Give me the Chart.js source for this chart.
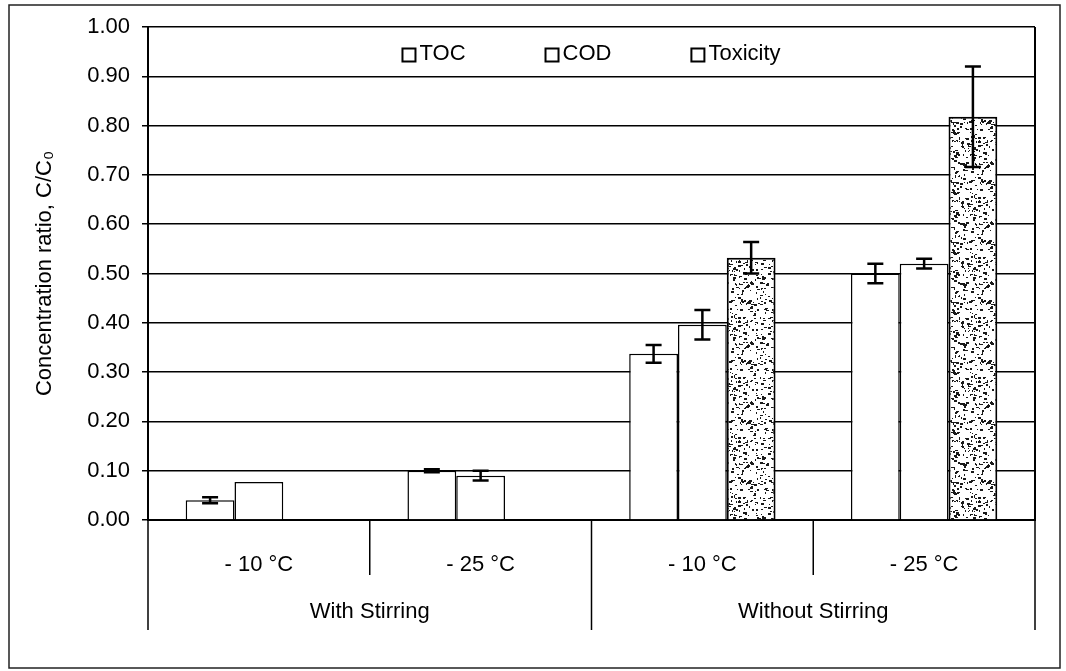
<!DOCTYPE html>
<html>
<head>
<meta charset="utf-8">
<script src="https://cdn.jsdelivr.net/npm/chart.js"></script>
<style>
  html, body { margin: 0; padding: 0; background: #fff; }
</style>
</head>
<body>
<canvas id="myratiochart" width="1066" height="671"></canvas>
<script>
// categories and series
const categories = ['- 10 °C', '- 25 °C', '- 10 °C', '- 25 °C']
const groupNames = ['With Stirring', 'Without Stirring']
const categoryGroup = [0, 0, 1, 1]
const seriesNames = ['TOC', 'COD', 'Toxicity']
const tocValues = [0.04, 0.10, 0.337, 0.50]
const tocErrors = [0.006, 0.003, 0.018, 0.02]
const codValues = [0.077, 0.09, 0.396, 0.52]
const codErrors = [0, 0.01, 0.03, 0.01]
const toxValues = [null, null, 0.532, 0.818]
const toxErrors = [null, null, 0.032, 0.102]
const yMin = 0
const yMax = 1
const yStep = 0.1

const fontFamily = '"Liberation Sans", Arial, sans-serif'
const fontSize = 22

const canvasforratio = document.getElementById('myratiochart')
const ctx = canvasforratio.getContext('2d')

// speckled fill for the toxicity bars (fixed texture, not data)
function speckle(){
    const c = document.createElement('canvas')
    c.width = 60
    c.height = 60
    const g = c.getContext('2d')
    g.fillStyle = '#fff'
    g.fillRect(0, 0, 60, 60)
    g.fillStyle = '#1a1a1a'
    let seed = 12345
    function next(){
        seed = (seed * 16807) % 2147483647
        return seed / 2147483647
    }
    for(let i = 0; i < 260; i++){
        let x = Math.floor(next() * 60)
        let y = Math.floor(next() * 60)
        let w = 1 + Math.floor(next() * 3)
        let h = 1 + Math.floor(next() * 2)
        g.fillRect(x, y, w, h)
    }
    return ctx.createPattern(c, 'repeat')
}

const errorLists = [tocErrors, codErrors, toxErrors]

const extrasPlugin = {
    id: 'extras',
    afterDatasetsDraw(chart){
        const c = chart.ctx
        const y = chart.scales.y
        // error bars
        c.save()
        c.strokeStyle = '#000'
        c.lineWidth = 2.5
        chart.data.datasets.forEach(function(ds, di){
            const meta = chart.getDatasetMeta(di)
            meta.data.forEach(function(bar, i){
                const v = ds.data[i]
                const e = errorLists[di][i]
                if(v === null || e === null || !e) return
                const x = bar.x
                const top = y.getPixelForValue(v + e)
                const bot = y.getPixelForValue(v - e)
                c.beginPath()
                c.moveTo(x, top); c.lineTo(x, bot)
                c.moveTo(x - 8, top); c.lineTo(x + 8, top)
                c.moveTo(x - 8, bot); c.lineTo(x + 8, bot)
                c.stroke()
            })
        })
        c.restore()
    },
    afterDraw(chart){
        const c = chart.ctx
        const area = chart.chartArea
        const x = chart.scales.x
        const catW = x.width / categories.length
        c.save()
        c.strokeStyle = '#000'
        c.fillStyle = '#000'

        // right edge of the plot
        c.lineWidth = 2
        c.beginPath()
        c.moveTo(area.right, area.top); c.lineTo(area.right, area.bottom)
        c.stroke()

        // category separators below the axis
        c.lineWidth = 1.5
        for(let i = 0; i <= categories.length; i++){
            const bx = x.getPixelForValue(0) - catW / 2 + i * catW
            const isGroupEdge = i === 0 || i === categories.length || categoryGroup[i] !== categoryGroup[i - 1]
            c.beginPath()
            c.moveTo(bx, area.bottom)
            c.lineTo(bx, area.bottom + (isGroupEdge ? 110 : 55))
            c.stroke()
        }

        // group labels
        c.font = fontSize + 'px ' + fontFamily
        c.textAlign = 'center'
        c.textBaseline = 'middle'
        groupNames.forEach(function(name, gi){
            let idx = []
            categoryGroup.forEach(function(g, i){ if(g === gi) idx.push(i) })
            const cx = (x.getPixelForValue(idx[0]) + x.getPixelForValue(idx[idx.length - 1])) / 2
            c.fillText(name, cx, area.bottom + 92)
        })

        // legend inside the plot
        const gap = 80
        const box = 13
        c.textAlign = 'left'
        let widths = chart.data.datasets.map(function(ds){ return box + 4 + c.measureText(ds.label).width })
        let total = widths.reduce(function(a, b){ return a + b }, 0) + gap * (widths.length - 1)
        let lx = (area.left + area.right) / 2 - total / 2
        const ly = area.top + 26
        chart.data.datasets.forEach(function(ds, di){
            c.fillStyle = '#fff'
            c.fillRect(lx, ly - box / 2 + 2, box, box)
            c.lineWidth = 2
            c.strokeRect(lx, ly - box / 2 + 2, box, box)
            c.fillStyle = '#000'
            c.fillText(ds.label, lx + box + 4, ly + 1)
            lx += widths[di] + gap
        })

        // outer frame
        c.lineWidth = 1.5
        c.strokeStyle = '#222'
        c.strokeRect(9, 5, 1051, 663)
        c.restore()
    }
}

new Chart(canvasforratio, {
    type: 'bar',
    data: {
        labels: categories,
        datasets: [
            { label: seriesNames[0], data: tocValues, backgroundColor: '#fff', borderColor: '#000', borderWidth: 1.5 },
            { label: seriesNames[1], data: codValues, backgroundColor: '#fff', borderColor: '#000', borderWidth: 1.5 },
            { label: seriesNames[2], data: toxValues, backgroundColor: speckle(), borderColor: '#000', borderWidth: 2 }
        ]
    },
    options: {
        responsive: false,
        animation: false,
        layout: { padding: { top: 27, right: 31, bottom: 0, left: 0 } },
        datasets: { bar: { categoryPercentage: 0.66, barPercentage: 1.0 } },
        plugins: {
            legend: { display: false },
            tooltip: { enabled: false }
        },
        scales: {
            x: {
                grid: { display: false, drawTicks: false },
                border: { display: true, color: '#000', width: 2 },
                ticks: { color: '#000', font: { family: fontFamily, size: fontSize }, padding: 32, maxRotation: 0, autoSkip: false },
                afterFit: function(scale){ scale.height = 151 }
            },
            y: {
                min: yMin,
                max: yMax,
                ticks: {
                    stepSize: yStep,
                    color: '#000',
                    padding: 12,
                    font: { family: fontFamily, size: fontSize },
                    callback: function(v){ return Number(v).toFixed(2) }
                },
                grid: { color: '#000', lineWidth: 1.5, tickLength: 6 },
                border: { color: '#000', width: 2 },
                title: {
                    display: true,
                    text: 'Concentration ratio, C/C₀',
                    color: '#000',
                    font: { family: fontFamily, size: fontSize },
                    padding: { top: 32, bottom: 0 }
                },
                afterFit: function(scale){ scale.width = 148 }
            }
        }
    },
    plugins: [extrasPlugin]
})
</script>
</body>
</html>
